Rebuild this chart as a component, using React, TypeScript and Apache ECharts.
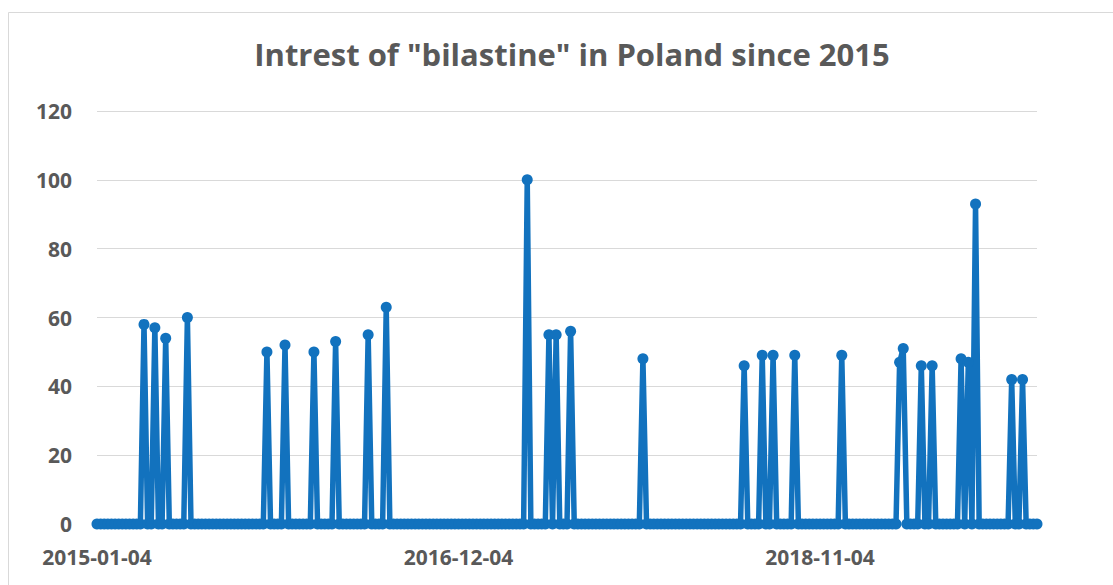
import React, { useEffect, useRef } from "react";
import * as echarts from "echarts";

// Weekly search interest, 261 weeks starting 2015-01-04
const startDate = "2015-01-04";
const weekCount = 261;

// Weeks (index from start) with non-zero interest, and their values
const spikeWeeks = [13, 16, 19, 25, 47, 52, 60, 66, 75, 80, 119, 125, 127, 131, 151, 179, 184, 187, 193, 206, 222, 223, 228, 231, 239, 241, 243, 253, 256];
const spikeValues = [58, 57, 54, 60, 50, 52, 50, 53, 55, 63, 100, 55, 55, 56, 48, 46, 49, 49, 49, 49, 47, 51, 46, 46, 48, 47, 93, 42, 42];

const yTicks = { min: 0, max: 120, interval: 20 };

const titleText = 'Intrest of "bilastine" in Poland since 2015';

function buildDates(): string[] {
  const out: string[] = [];
  const d0 = new Date(startDate + "T00:00:00Z");
  for (let i = 0; i < weekCount; i++) {
    const d = new Date(d0.getTime() + i * 7 * 86400000);
    out.push(d.toISOString().slice(0, 10));
  }
  return out;
}

function buildValues(): number[] {
  const vals = new Array(weekCount).fill(0);
  spikeWeeks.forEach((w, k) => {
    vals[w] = spikeValues[k];
  });
  return vals;
}

export default function App() {
  const ref = useRef<HTMLDivElement>(null);

  useEffect(() => {
    document.body.style.margin = "0";
    if (!ref.current) return;
    const chart = echarts.init(ref.current, undefined, { renderer: "svg" });
    const dates = buildDates();
    const values = buildValues();
    const lineColor = "#1272BE";
    const textColor = "#595959";
    const font = "'Open Sans', sans-serif";

    chart.setOption({
      animation: false,
      backgroundColor: "#ffffff",
      graphic: [
        {
          type: "rect",
          shape: { x: 8.5, y: 12.5, width: 1300, height: 800 },
          style: { fill: "none", stroke: "#d9d9d9", lineWidth: 1 },
          silent: true,
        },
      ],
      title: {
        text: titleText,
        left: 567,
        top: 33,
        textAlign: "center",
        textStyle: {
          color: textColor,
          fontFamily: font,
          fontWeight: "bold",
          fontSize: 31,
        },
      },
      grid: { left: 97, top: 111, width: 940, height: 413 },
      xAxis: {
        type: "category",
        data: dates,
        boundaryGap: false,
        axisLine: { show: true, lineStyle: { color: "#d9d9d9" } },
        axisTick: { show: false },
        axisLabel: {
          interval: 99,
          margin: 22,
          color: textColor,
          fontFamily: font,
          fontWeight: "bold",
          fontSize: 21,
        },
        splitLine: { show: false },
      },
      yAxis: {
        type: "value",
        min: yTicks.min,
        max: yTicks.max,
        interval: yTicks.interval,
        axisLine: { show: false },
        axisTick: { show: false },
        axisLabel: {
          margin: 25,
          color: textColor,
          fontFamily: font,
          fontWeight: "bold",
          fontSize: 21,
        },
        splitLine: { lineStyle: { color: "#d9d9d9", width: 1 } },
      },
      series: [
        {
          type: "line",
          data: values,
          showAllSymbol: true,
          symbol: "circle",
          symbolSize: 11,
          lineStyle: { color: lineColor, width: 5.5 },
          itemStyle: { color: lineColor },
        },
      ],
    });

    return () => chart.dispose();
  }, []);

  return <div ref={ref} style={{ width: 1113, height: 585 }} />;
}
